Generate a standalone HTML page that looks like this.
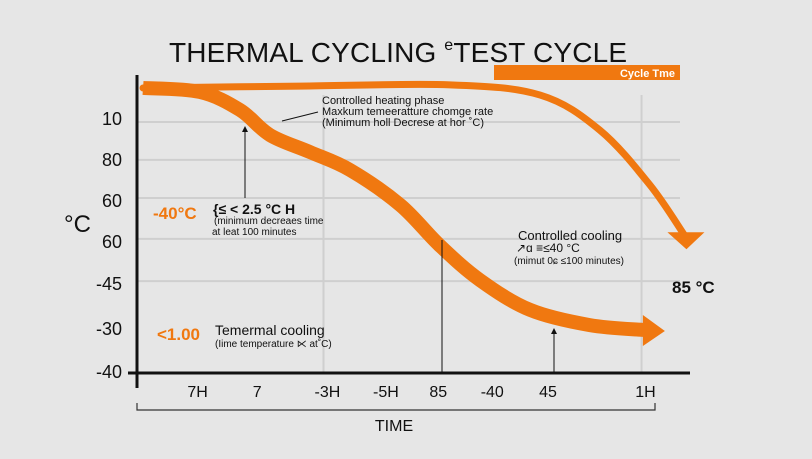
<!DOCTYPE html>
<html><head><meta charset="utf-8"><style>
body{margin:0;background:#e6e6e6;}
svg{display:block;font-family:"Liberation Sans",sans-serif;}
</style></head><body>
<svg width="812" height="459" viewBox="0 0 812 459">
<rect width="812" height="459" fill="#e6e6e6"/>
<g id="grid"></g>
<text x="398" y="62" font-size="28" text-anchor="middle" fill="#111" textLength="458">THERMAL CYCLING <tspan font-size="16" dy="-12">e</tspan><tspan dy="12">TEST CYCLE</tspan></text>
<rect x="494" y="65" width="186" height="15" fill="#f07810"/>
<text x="675" y="77" font-size="11" font-weight="bold" fill="#fff" text-anchor="end">Cycle Tme</text>
<g id="yticks"></g>
<g id="xticks"></g>
<text x="64" y="232" font-size="24" fill="#111">°C</text>
<line x1="137" y1="75" x2="137" y2="388" stroke="#111" stroke-width="3"/>
<line x1="128" y1="373" x2="690" y2="373" stroke="#111" stroke-width="3"/>
<path d="M137,403 V410 H655 V403" fill="none" stroke="#333" stroke-width="1.2"/>
<text x="394" y="431" font-size="16" text-anchor="middle" fill="#111">TIME</text>
<g id="series"></g>
<g fill="#111" font-size="11">
<text x="322" y="104">Controlled heating phase</text>
<text x="322" y="115">Maxkum temeeratture chomge rate</text>
<text x="322" y="126">(Minimum holl Decrese at hor ˚C)</text>
<line x1="318" y1="112" x2="282" y2="121" stroke="#111"/>
<line x1="245" y1="198" x2="245" y2="128" stroke="#111"/>
<polygon points="242,132 245,126 248,132"/>
<text x="153" y="219" font-size="17" font-weight="bold" fill="#f07810">-40°C</text>
<text x="213" y="214" font-size="14" font-weight="bold">{≤  &lt; 2.5 °C H</text>
<text x="214" y="224" font-size="10">(minimum decreaes time</text>
<text x="212" y="235" font-size="10">at leat 100 minutes</text>
<text x="518" y="240" font-size="13">Controlled cooling</text>
<text x="516" y="252" font-size="12">↗ɑ ≡≤40 °C</text>
<text x="514" y="264" font-size="10">(mimut 0ɕ ≤100 minutes)</text>
<line x1="442" y1="240" x2="442" y2="372" stroke="#111"/>
<line x1="554" y1="330" x2="554" y2="372" stroke="#111"/>
<polygon points="551,334 554,328 557,334"/>
<text x="157" y="340" font-size="17" font-weight="bold" fill="#f07810">&lt;1.00</text>
<text x="215" y="335" font-size="14">Temermal cooling</text>
<text x="215" y="347" font-size="10">(Iime temperature ⋉ at˚C)</text>
<text x="672" y="293" font-size="17" font-weight="bold">85 °C</text>
</g>
</svg>
<script>
const yTickLabels=["10","80","60","60","-45","-30","-40"];
const yTickPos=[85.8,72.6,59.4,46.1,32.6,18,4.2];
const xTickLabels=["7H","7","-3H","-5H","85","-40","45","1H"];
const xTickPos=[11.6,22.3,34.9,45.4,54.8,64.5,74.5,92];
const heatT=[1.8,12,19.2,24.6,31.8,39,48,55,62.3,71.3,82,91.9];
const heatV=[95.5,94.2,88.4,80.3,74.8,69,57.7,44.8,33.5,23.9,19,17.4];
const holdT=[1.8,30,56.9,73.1,83.8,92.8,99];
const holdV=[95.5,96.1,96.5,93.2,81.9,64.2,48];
const gridV=[84.5,72.3,60,46.8,33.2];
const gridT=[34.2,91.3];
const X=t=>133+t*5.57, Y=v=>384-v*3.1;
const NS="http://www.w3.org/2000/svg";
function mk(tag,attrs,parent){const e=document.createElementNS(NS,tag);for(const k in attrs)e.setAttribute(k,attrs[k]);document.getElementById(parent).appendChild(e);return e;}
gridV.forEach(v=>{const l=mk('line',{x1:137,x2:680,y1:Y(v),y2:Y(v),stroke:'#cfcfcf','stroke-width':2},'grid');

});
gridT.forEach(t=>{const l=mk('line',{x1:X(t),x2:X(t),y1:95,y2:373,stroke:'#cfcfcf','stroke-width':2},'grid');

});
yTickLabels.forEach((s,i)=>{const t=mk('text',{x:122,y:Y(yTickPos[i])+7,'font-size':18,'text-anchor':'end',fill:'#111'},'yticks');t.textContent=s;

});
xTickLabels.forEach((s,i)=>{const t=mk('text',{x:X(xTickPos[i]),y:397,'font-size':16,'text-anchor':'middle',fill:'#111'},'xticks');t.textContent=s;

});
function pathD(T,V){let p=T.map((t,i)=>[X(t),Y(V[i])]);let d=`M${p[0][0]},${p[0][1]}`;
for(let i=0;i<p.length-1;i++){const p0=p[i-1]||p[i],p1=p[i],p2=p[i+1],p3=p[i+2]||p2;
d+=` C${p1[0]+(p2[0]-p0[0])/6},${p1[1]+(p2[1]-p0[1])/6} ${p2[0]-(p3[0]-p1[0])/6},${p2[1]-(p3[1]-p1[1])/6} ${p2[0]},${p2[1]}`;}return d;}
const h=mk('path',{d:pathD(holdT,holdV),fill:'none',stroke:'#f07810','stroke-width':7,'stroke-linecap':'round'},'series');


const c=mk('path',{d:pathD(heatT,heatV),fill:'none',stroke:'#f07810','stroke-width':14},'series');


const n=heatT.length-1,ax=X(heatT[n]),ay=Y(heatV[n]);
const a1=mk('polygon',{points:`${ax-2},${ay-15} ${ax+20},${ay+1} ${ax-2},${ay+16}`,fill:'#f07810'},'series');


const m=holdT.length-1,bx=X(holdT[m]),by=Y(holdV[m]);
const a2=mk('polygon',{points:`${bx-17},${by-3} ${bx+20},${by-3} ${bx+2},${by+14}`,fill:'#f07810'},'series');


</script>
</body></html>
